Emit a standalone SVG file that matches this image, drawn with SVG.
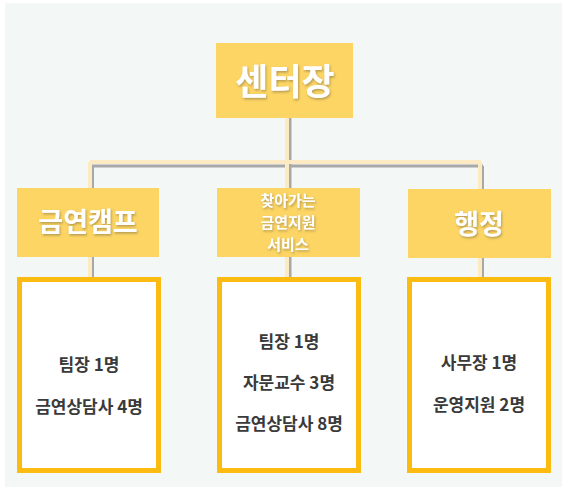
<svg xmlns="http://www.w3.org/2000/svg" width="567" height="500" viewBox="0 0 567 500">
<defs>
<filter id="ts" x="-10%" y="-10%" width="130%" height="140%">
<feDropShadow dx="1" dy="1.5" stdDeviation="0.8" flood-color="#7a6a40" flood-opacity="0.55"/>
</filter>
</defs>
<style>
.head{fill:#fcd564}
.hd{font-family:"Noto Sans CJK KR","Noto Sans",sans-serif;font-weight:700;fill:#ffffff;text-anchor:middle;filter:url(#ts)}
.card{fill:#ffffff;stroke:#fcbb10;stroke-width:5}
.t{font-family:"Noto Sans CJK KR","Noto Sans",sans-serif;font-weight:700;font-size:17px;fill:#3a3a3a;text-anchor:middle}
.sh{stroke:#a8a8a8;stroke-width:3;fill:none}
.ln{stroke:#fcebc2;stroke-width:4;fill:none}
</style>
<rect x="5" y="3" width="557" height="484" fill="#f3f8f7"/>
<g id="connectors">
<path class="sh" d="M290,118 V188 M92.5,166 V188 M92.5,257 V277 M482.5,166 V189 M482.5,258 V277 M92,166 H483 M290,257 V277"/>
<path class="ln" d="M287,118 V188 M90,162 H481 M90,162 V188 M90,257 V277 M480,162 V189 M480,258 V277 M287,257 V277"/>
</g>
<g id="center">
<rect class="head" x="216" y="43" width="137" height="75"/>
<text class="hd" x="285" y="95" font-size="36">센터장</text>
</g>
<g id="camp">
<rect class="head" x="17" y="188" width="142" height="69"/>
<text class="hd" x="88" y="232" font-size="27">금연캠프</text>
</g>
<g id="visit">
<rect class="head" x="217" y="188" width="143" height="69"/>
<text class="hd" x="288" y="206" font-size="15">찾아가는</text>
<text class="hd" x="288" y="228" font-size="15">금연지원</text>
<text class="hd" x="288" y="250" font-size="15">서비스</text>
</g>
<g id="admin">
<rect class="head" x="408" y="189" width="143" height="69"/>
<text class="hd" x="479" y="234" font-size="27">행정</text>
</g>
<g id="camp-staff">
<rect class="card" x="19.5" y="279.5" width="139" height="191"/>
<text class="t" x="89" y="371">팀장 1명</text>
<text class="t" x="89" y="413">금연상담사 4명</text>
</g>
<g id="visit-staff">
<rect class="card" x="219.5" y="279.5" width="139" height="191"/>
<text class="t" x="289" y="348">팀장 1명</text>
<text class="t" x="289" y="389">자문교수 3명</text>
<text class="t" x="289" y="430">금연상담사 8명</text>
</g>
<g id="admin-staff">
<rect class="card" x="409.5" y="279.5" width="139" height="191"/>
<text class="t" x="479" y="369">사무장 1명</text>
<text class="t" x="479" y="411">운영지원 2명</text>
</g>
</svg>
